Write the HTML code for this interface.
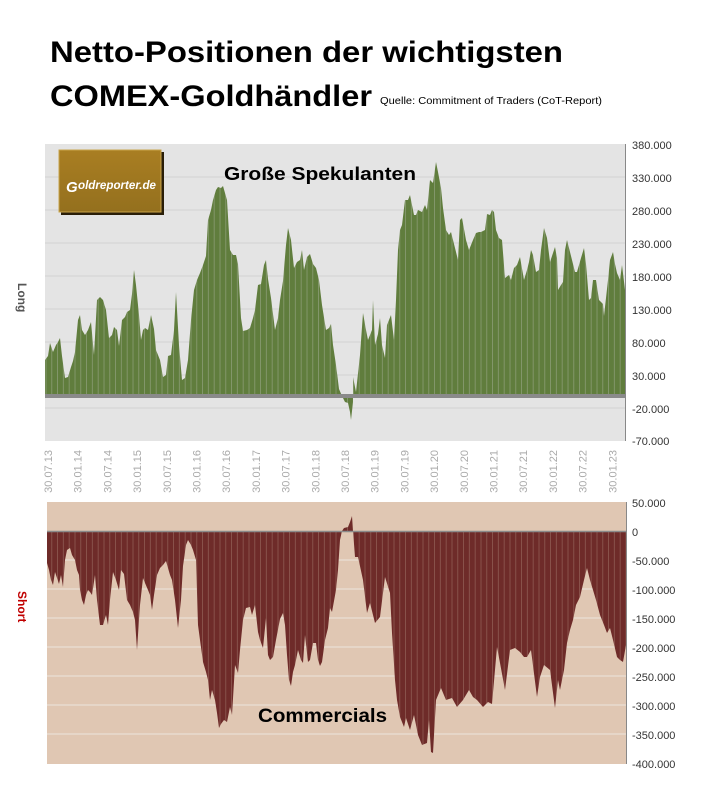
<!DOCTYPE html>
<html><head><meta charset="utf-8"><style>body{margin:0;background:#fff}svg{display:block}</style></head><body>
<svg width="707" height="794" xmlns="http://www.w3.org/2000/svg" font-family="Liberation Sans, sans-serif">
<defs>
<linearGradient id="lg" x1="0" y1="0" x2="0" y2="1"><stop offset="0" stop-color="#a97e22"/><stop offset="1" stop-color="#94701e"/></linearGradient>
<pattern id="pg" width="5.8" height="10" patternUnits="userSpaceOnUse"><rect width="5.8" height="10" fill="#607d3d"/><rect x="5" width="0.8" height="10" fill="#8a9c74"/></pattern>
<pattern id="pr" width="5.8" height="10" patternUnits="userSpaceOnUse"><rect width="5.8" height="10" fill="#6e2b29"/><rect x="5" width="0.8" height="10" fill="#8e5a52"/></pattern>
</defs>
<text x="50" y="62" font-size="30" font-weight="bold" textLength="513" lengthAdjust="spacingAndGlyphs">Netto-Positionen der wichtigsten</text>
<text x="50" y="106" font-size="30" font-weight="bold" textLength="322" lengthAdjust="spacingAndGlyphs">COMEX-Goldhändler</text>
<text x="380" y="104" font-size="10" textLength="222" lengthAdjust="spacingAndGlyphs">Quelle: Commitment of Traders (CoT-Report)</text>

<!-- top chart -->
<rect x="45" y="144" width="580" height="297" fill="#e4e4e4"/>
<g stroke="#d2d2d2" stroke-width="1">
<line x1="45" x2="625" y1="177" y2="177"/><line x1="45" x2="625" y1="210" y2="210"/><line x1="45" x2="625" y1="243" y2="243"/><line x1="45" x2="625" y1="276" y2="276"/><line x1="45" x2="625" y1="309" y2="309"/><line x1="45" x2="625" y1="342" y2="342"/><line x1="45" x2="625" y1="375" y2="375"/><line x1="45" x2="625" y1="408" y2="408"/>
</g>
<path fill="url(#pg)" d="M45,396 L45,360 48,356 50,343 53,352 56,345 58,342 60,338 62,356 65,378 68,377 71,367 73,361 75,352 78,320 80,315 82,330 85,335 88,330 91,322 94,355 97,300 100,297 103,300 106,310 109,338 112,335 114,327 117,330 119,346 122,320 125,317 127,312 130,310 132,294 134,270 136,285 139,315 141,340 143,330 145,328 148,330 151,315 154,329 156,350 160,360 163,377 166,375 168,356 171,355 174,330 176,292 179,345 182,380 185,378 188,360 191,320 194,290 197,280 200,273 203,265 206,256 208,220 211,210 213,200 216,190 218,187 221,188 223,186 227,200 230,250 233,255 236,255 238,264 241,318 243,331 247,330 250,328 253,318 255,310 258,285 261,284 264,265 266,260 268,279 271,298 275,330 278,318 280,300 283,281 286,245 288,228 291,240 294,268 297,262 300,260 302,250 304,270 307,257 310,254 313,264 316,268 319,280 322,305 326,330 329,328 331,324 333,345 336,365 339,389 342,396 345,402 348,403 350,412 351,420 353,402 353,377 356,392 360,355 363,313 366,330 368,340 372,330 373,300 375,345 378,334 380,318 382,345 385,358 387,325 391,315 394,340 396,300 398,250 400,230 402,225 405,200 408,200 410,195 414,215 416,215 418,210 422,212 425,205 427,210 430,180 433,183 436,162 438,172 441,188 443,208 446,230 449,235 451,232 453,240 458,260 460,220 462,218 466,240 469,250 473,240 476,233 479,232 481,232 485,230 487,214 490,215 492,210 494,212 496,230 499,238 502,240 505,278 509,275 511,280 514,268 517,265 520,257 524,280 527,270 529,262 531,250 533,255 536,272 539,270 541,250 544,228 547,238 550,262 552,256 555,247 557,258 558,290 561,285 563,282 565,250 567,240 570,252 575,272 577,272 581,258 584,248 586,264 589,300 591,298 593,280 596,280 599,300 603,304 604,316 608,280 610,260 613,252 615,264 617,273 620,280 622,265 625,290 625,396 Z"/>
<rect x="45" y="394" width="580" height="4" fill="#8a8a8a"/>
<line x1="625.5" y1="144" x2="625.5" y2="441" stroke="#888"/>
<g font-size="11" fill="#333">
<text x="632" y="149">380.000</text><text x="632" y="182">330.000</text><text x="632" y="215">280.000</text><text x="632" y="248">230.000</text><text x="632" y="281">180.000</text><text x="632" y="314">130.000</text><text x="632" y="347">80.000</text><text x="632" y="380">30.000</text><text x="632" y="413">-20.000</text><text x="632" y="445">-70.000</text>
</g>
<g font-size="11" fill="#aaa" text-anchor="end">
<text transform="translate(52,450) rotate(-90)">30.07.13</text><text transform="translate(81.7,450) rotate(-90)">30.01.14</text><text transform="translate(111.4,450) rotate(-90)">30.07.14</text><text transform="translate(141.1,450) rotate(-90)">30.01.15</text><text transform="translate(170.8,450) rotate(-90)">30.07.15</text><text transform="translate(200.5,450) rotate(-90)">30.01.16</text><text transform="translate(230.2,450) rotate(-90)">30.07.16</text><text transform="translate(259.9,450) rotate(-90)">30.01.17</text><text transform="translate(289.6,450) rotate(-90)">30.07.17</text><text transform="translate(319.3,450) rotate(-90)">30.01.18</text><text transform="translate(349,450) rotate(-90)">30.07.18</text><text transform="translate(378.7,450) rotate(-90)">30.01.19</text><text transform="translate(408.4,450) rotate(-90)">30.07.19</text><text transform="translate(438.1,450) rotate(-90)">30.01.20</text><text transform="translate(467.8,450) rotate(-90)">30.07.20</text><text transform="translate(497.5,450) rotate(-90)">30.01.21</text><text transform="translate(527.2,450) rotate(-90)">30.07.21</text><text transform="translate(556.9,450) rotate(-90)">30.01.22</text><text transform="translate(586.6,450) rotate(-90)">30.07.22</text><text transform="translate(616.3,450) rotate(-90)">30.01.23</text>
</g>
<rect x="61" y="152" width="103" height="63" fill="#2a1e08"/>
<rect x="59" y="150" width="102" height="62" fill="url(#lg)" stroke="#c9a44a" stroke-width="1"/>
<text x="66" y="192" font-size="15" fill="#fff" font-style="italic" font-weight="bold">G</text>
<text x="78" y="189" font-size="12" fill="#fff" font-style="italic" font-weight="bold" textLength="78" lengthAdjust="spacingAndGlyphs">oldreporter.de</text>
<text x="224" y="180" font-size="18" font-weight="bold" textLength="192" lengthAdjust="spacingAndGlyphs">Große Spekulanten</text>
<text transform="translate(18,283) rotate(90)" font-size="12" font-weight="bold" fill="#555">Long</text>

<!-- bottom chart -->
<rect x="47" y="502" width="579" height="262" fill="#e0c7b3"/>
<g stroke="#ece4dc" stroke-width="1">
<line x1="47" x2="626" y1="560" y2="560"/><line x1="47" x2="626" y1="589" y2="589"/><line x1="47" x2="626" y1="618" y2="618"/><line x1="47" x2="626" y1="647" y2="647"/><line x1="47" x2="626" y1="676" y2="676"/><line x1="47" x2="626" y1="705" y2="705"/><line x1="47" x2="626" y1="734" y2="734"/>
</g>
<path fill="url(#pr)" d="M47,531 L47,563 49,570 51,580 53,585 55,572 57,578 59,584 61,575 63,587 65,560 67,550 70,548 72,555 75,560 77,570 79,575 80,590 82,600 84,605 86,595 88,590 90,592 92,595 95,575 97,600 100,625 103,625 106,615 108,625 110,600 113,572 116,580 119,590 121,570 124,574 127,600 130,605 133,612 135,620 137,650 140,605 143,578 145,583 148,590 150,595 152,610 154,595 157,575 160,568 163,565 166,561 168,568 170,575 172,580 175,600 178,628 181,600 183,566 186,545 188,540 191,545 193,550 196,560 198,625 200,640 203,662 206,672 208,680 210,700 212,690 215,700 217,713 219,728 221,724 224,720 227,722 230,707 232,715 235,665 238,673 240,650 243,620 246,608 250,607 252,615 255,605 258,632 260,640 263,648 266,618 268,655 270,660 273,657 276,640 280,619 283,613 285,625 287,655 289,680 291,686 293,672 295,665 298,650 301,660 303,663 305,635 308,662 310,660 313,643 316,643 318,660 320,666 322,662 325,640 328,628 330,608 332,612 336,590 338,570 340,540 342,531 344,528 348,527 350,522 352,516 353,531 355,557 358,557 363,580 367,613 370,603 375,623 380,617 385,577 390,593 392,633 395,680 397,700 400,717 404,727 406,718 410,730 414,715 418,735 422,745 427,743 429,720 431,752 433,753 436,700 441,688 446,700 452,698 457,707 463,700 469,690 473,697 477,700 483,707 488,702 492,704 497,647 500,663 505,690 510,650 515,648 520,652 524,657 527,657 531,650 537,697 540,677 544,665 550,670 555,708 558,680 560,690 564,670 567,643 570,630 573,620 576,605 580,597 584,580 587,568 590,580 593,590 596,600 600,615 604,625 607,633 610,628 613,640 617,657 620,660 623,662 626,645 626,531 Z"/>
<line x1="47" x2="626" y1="531.5" y2="531.5" stroke="#8a8a8a" stroke-width="1.5"/>
<line x1="626.5" y1="502" x2="626.5" y2="764" stroke="#888"/>
<g font-size="11" fill="#333">
<text x="632" y="507">50.000</text><text x="632" y="536">0</text><text x="632" y="565">-50.000</text><text x="632" y="594">-100.000</text><text x="632" y="623">-150.000</text><text x="632" y="652">-200.000</text><text x="632" y="681">-250.000</text><text x="632" y="710">-300.000</text><text x="632" y="739">-350.000</text><text x="632" y="768">-400.000</text>
</g>
<text x="258" y="722" font-size="19" font-weight="bold" textLength="129" lengthAdjust="spacingAndGlyphs">Commercials</text>
<text transform="translate(18,591) rotate(90)" font-size="12" font-weight="bold" fill="#c00000">Short</text>
</svg>
</body></html>
